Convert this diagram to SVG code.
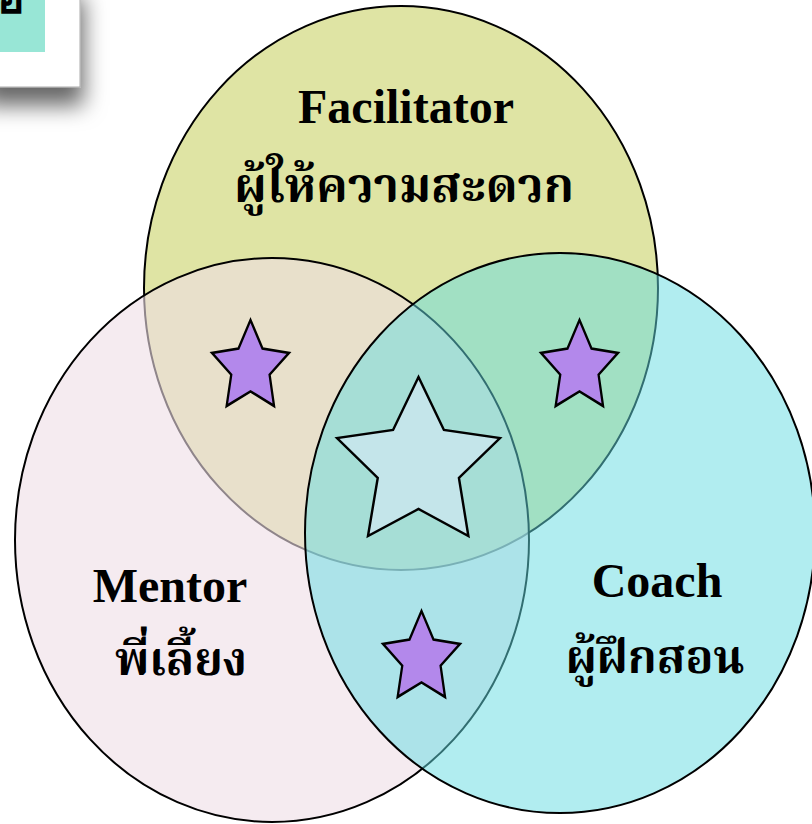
<svg xmlns="http://www.w3.org/2000/svg" width="812" height="824" viewBox="0 0 812 824">
<defs>
<filter id="shadow" x="-50%" y="-50%" width="200%" height="200%">
<feDropShadow dx="3" dy="18" stdDeviation="11" flood-color="#000" flood-opacity="0.6"/>
</filter>
<polygon id="star" points="0.5,0 0.656,0.333 1,0.384 0.748,0.635 0.806,1 0.5,0.83 0.19,1 0.25,0.635 0,0.384 0.344,0.333"/>
</defs>
<style>
.ell{stroke:#000;stroke-width:2}
.lbl{font-family:"Liberation Serif","Noto Serif Thai","Noto Sans Thai",serif;font-weight:bold;font-size:48px;fill:#000;text-anchor:middle}
.th{font-size:46px}
.small{fill:#b388eb;stroke:#000;stroke-width:0.03}
.big{fill:#c4e5ea;stroke:#000;stroke-width:0.015}
</style>
<g id="title-box">
<rect x="-20" y="-20" width="100" height="107" fill="#fff" stroke="#aaa" stroke-width="1" filter="url(#shadow)"/>
<rect x="-20" y="-20" width="65" height="72" fill="#98e6d6"/>
<text x="-3" y="13" font-family="Liberation Sans,sans-serif" font-weight="bold" font-size="46" fill="#000">อ</text>
</g>
<g id="facilitator">
<ellipse class="ell" cx="401" cy="288" rx="257" ry="282" fill="#dfe4a4"/>
</g>
<g id="mentor">
<ellipse class="ell" cx="272" cy="540" rx="257" ry="282" fill="rgb(238,222,230)" fill-opacity="0.6"/>
</g>
<g id="coach">
<ellipse class="ell" cx="560" cy="533" rx="255" ry="280" fill="rgb(100,220,225)" fill-opacity="0.5"/>
</g>
<g id="labels">
<text class="lbl" x="406" y="123">Facilitator</text>
<text class="lbl th" x="404" y="202" style="font-size:48px">ผู้ให้ความสะดวก</text>
<text class="lbl" x="170" y="602">Mentor</text>
<text class="lbl th" x="181" y="675">พี่เลี้ยง</text>
<text class="lbl" x="657" y="597">Coach</text>
<text class="lbl th" x="655" y="673">ผู้ฝึกสอน</text>
</g>
<g id="stars">
<use href="#star" class="small" transform="translate(212,320) scale(77,86)"/>
<use href="#star" class="small" transform="translate(541,320) scale(77,86)"/>
<use href="#star" class="small" transform="translate(383,611) scale(77,86)"/>
<use href="#star" class="big" transform="translate(337,377) scale(163,159)"/>
</g>
<g id="connectors"></g>
</svg>
